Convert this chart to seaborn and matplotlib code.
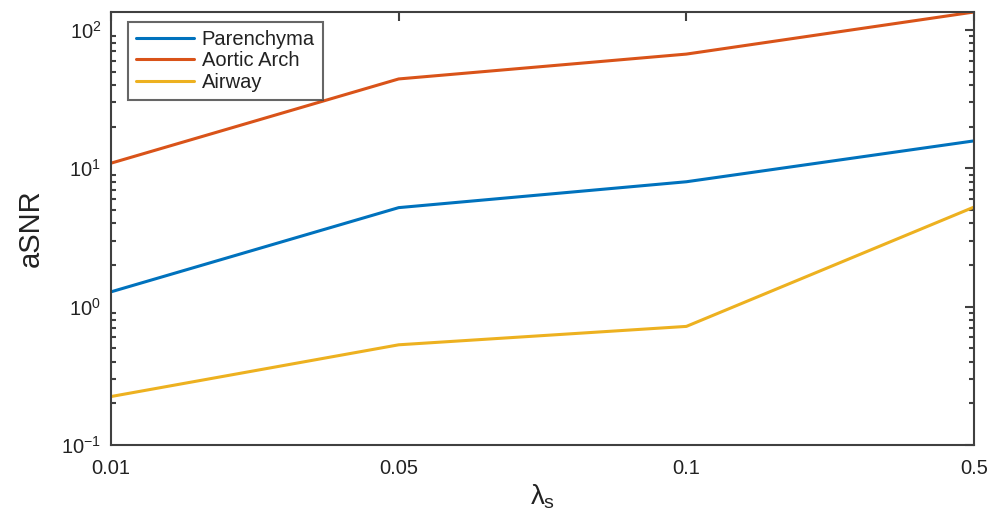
import matplotlib
matplotlib.use("Agg")
import matplotlib.pyplot as plt
import seaborn as sns
import pandas as pd
import numpy as np
from matplotlib.ticker import LogLocator, NullFormatter

lambdas = ["0.01", "0.05", "0.1", "0.5"]
parenchyma = [1.28, 5.2, 8.0, 15.8]
aortic_arch = [10.9, 44.3, 67.0, 135.0]
airway = [0.224, 0.53, 0.72, 5.25]
series_names = ["Parenchyma", "Aortic Arch", "Airway"]
colors = ["#0072BD", "#D95319", "#EDB120"]

rows = []
for name, vals in zip(series_names, [parenchyma, aortic_arch, airway]):
    for i, (lam, v) in enumerate(zip(lambdas, vals)):
        rows.append({"pos": i, "lambda": lam, "aSNR": v, "series": name})
df = pd.DataFrame(rows)

sns.set_style("white")
plt.rcParams["font.family"] = ["Liberation Sans", "DejaVu Sans"]
plt.rcParams["mathtext.fontset"] = "custom"
plt.rcParams["mathtext.rm"] = "Liberation Sans"
plt.rcParams["mathtext.it"] = "Liberation Sans"
plt.rcParams["axes.unicode_minus"] = False

fig = plt.figure(figsize=(9.92, 5.11), dpi=100)
ax = fig.add_axes([0.1119, 0.1292, 0.8700, 0.8473])

sns.lineplot(data=df, x="pos", y="aSNR", hue="series", palette=colors,
             hue_order=series_names, ax=ax, linewidth=2.2, legend=True)

ax.set_yscale("log")
ax.set_xlim(0, 3)
ax.set_ylim(0.1, max(aortic_arch))
ax.set_xticks(range(len(lambdas)))
ax.set_xticklabels(lambdas)
ax.yaxis.set_major_locator(LogLocator(base=10, numticks=10))
ax.yaxis.set_minor_locator(LogLocator(base=10, subs=np.arange(2, 10), numticks=20))
ax.yaxis.set_minor_formatter(NullFormatter())

for s in ax.spines.values():
    s.set_color("#404040")
    s.set_linewidth(1.5)
ax.tick_params(axis="both", which="major", direction="in", length=6.5, width=1.5,
               colors="#404040", labelcolor="#222222", labelsize=14.5,
               top=True, right=True)
ax.tick_params(axis="y", which="minor", direction="in", length=3.8, width=1.5,
               colors="#404040", left=True, right=True)
ax.tick_params(axis="x", which="major", pad=10)
ax.tick_params(axis="y", which="major", pad=7)

ax.set_ylabel("aSNR", fontsize=21, color="#222222", labelpad=12)
ax.set_xlabel(r"$\lambda_\mathregular{s}$", fontsize=20, color="#222222", labelpad=3)

leg = ax.legend(loc="upper left", bbox_to_anchor=(0.0197, 0.977), borderaxespad=0,
                fontsize=14.5, frameon=True, fancybox=False,
                edgecolor="#404040", borderpad=0.4, handlelength=2.9,
                labelspacing=0.12, handletextpad=0.35)
leg.get_frame().set_linewidth(1.5)
for t in leg.get_texts():
    t.set_color("#222222")

fig.savefig("out.png", dpi=100)
